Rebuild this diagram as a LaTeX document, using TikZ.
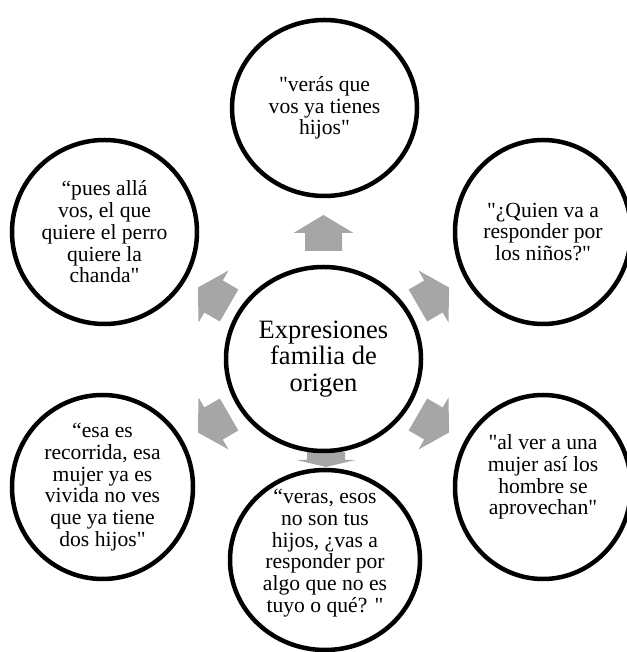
\documentclass[tikz,border=0pt]{standalone}
\usepackage{fontspec}
\setmainfont{Liberation Serif}[Ligatures=TeXOff]
\usetikzlibrary{shapes.geometric}
\definecolor{arrowgray}{HTML}{A6A6A6}
\tikzset{bubble/.style={ellipse, draw, line width=4.5pt, fill=white, inner sep=0pt,
    minimum width=185pt, minimum height=182pt}}
\tikzset{hub/.style={bubble, minimum width=195pt, minimum height=184pt}}
\tikzset{quote/.style={align=center, inner sep=0pt, font=\fontsize{21.6}{21.7}\selectfont}}
\tikzset{hubtext/.style={align=center, inner sep=0pt, font=\fontsize{26.5}{26.8}\selectfont}}

\begin{document}
\begin{tikzpicture}[x=1pt, y=1pt]
    \useasboundingbox (0,0) rectangle (626,652);
    % grey block arrows round the hub
    \foreach \ang in {90,30,150,210,330}
        \fill[arrowgray, shift={(323.5,292)}, rotate=\ang]
            (109,-18.5) -- (127,-18.5) -- (127,-30) -- (145,0)
            -- (127,30) -- (127,18.5) -- (109,18.5) -- cycle;
    % the flattened one at the bottom
    \fill[arrowgray] (307,200) -- (307,192) -- (296.5,192) -- (326,185)
        -- (355.5,192) -- (345,192) -- (345,200) -- cycle;
    % circles
    \node[hub] (hub) at (323.5,293) {};
    \node[bubble, minimum height=176pt] (top) at (324.5,544) {};
    \node[bubble, minimum height=184pt] (upleft) at (104.5,420) {};
    \node[bubble, minimum width=176pt, minimum height=184pt] (upright) at (543,420) {};
    \node[bubble, minimum width=181pt, minimum height=184pt] (lowleft) at (102.5,165) {};
    \node[bubble, minimum width=176pt, minimum height=184pt] (lowright) at (543,165) {};
    \node[bubble, minimum width=190pt, minimum height=180pt] (bottom) at (325,92) {};
    % texts
    \node[hubtext] (hub-txt) at (hub) {Expresiones\\familia de\\origen};
    \node[quote] (top-txt) at (top) {"verás que\\vos ya tienes\\hijos"};
    \node[quote] (upleft-txt) at (upleft) {“pues allá\\vos, el que\\quiere el perro\\quiere la\\chanda"};
    \node[quote] (upright-txt) at (upright) {"¿Quien va a\\responder por\\los niños?"};
    \node[quote] (lowleft-txt) at (lowleft) {“esa es\\recorrida, esa\\mujer ya es\\vivida no ves\\que ya tiene\\dos hijos"};
    \node[quote] (lowright-txt) at ([yshift=10pt]lowright.center) {"al ver a una\\mujer así los\\hombre se\\aprovechan"};
    \node[quote] (bottom-txt) at ([yshift=7pt]bottom.center) {“veras, esos\\no son tus\\hijos, ¿vas a\\responder por\\algo que no es\\tuyo o qué? "};
\end{tikzpicture}
\end{document}
